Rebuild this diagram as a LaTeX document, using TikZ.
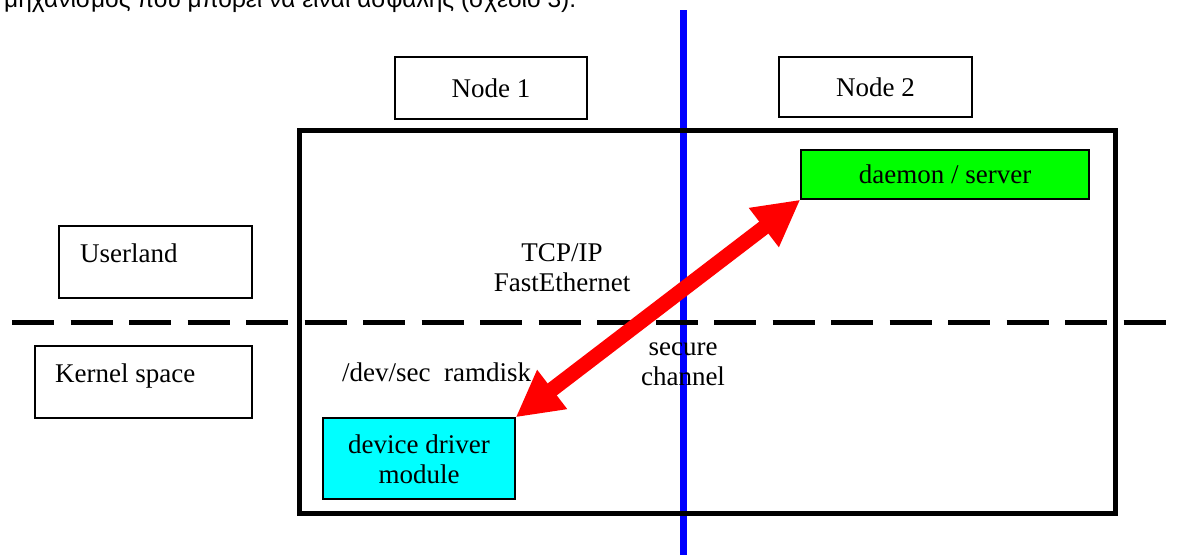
\documentclass[tikz,border=0pt]{standalone}
\usepackage{fontspec}
\setmainfont{Liberation Serif}
\newfontfamily\grsans{Liberation Sans}
\usetikzlibrary{arrows.meta}
\definecolor{linkred}{RGB}{255,0,0}
\definecolor{wireblue}{RGB}{0,0,255}
\definecolor{usergreen}{RGB}{0,255,0}
\definecolor{kernelcyan}{RGB}{0,255,255}
\begin{document}
\begin{tikzpicture}[x=1pt,y=-1pt,
  txt/.style={font=\fontsize{27}{30}\selectfont, inner sep=0pt},
  plainbox/.style={draw=black, line width=1.3pt, inner sep=0pt, txt},
  hostframe/.style={draw=black, line width=5pt},
  wire/.style={draw=wireblue, line width=7pt},
  layerline/.style={draw=black, line width=5pt, dash pattern=on 42pt off 16.5pt},
  link/.style={draw=linkred, line width=15pt,
    {Triangle[length=46pt,width=46pt]}-{Triangle[length=46pt,width=46pt]}}
]
\useasboundingbox (0,0) rectangle (1177,555);

% caption line running off the top edge
\begin{scope}
  \clip (0,0) rectangle (1177,555);
  \node[anchor=base west, inner sep=0pt] (cap) at (4,7)
    {\resizebox{572pt}{!}{\grsans\fontsize{24}{28}\selectfont μηχανισμός που μπορεί να είναι ασφαλής (σχέδιο 3).}};
\end{scope}

% network boundary between the two hosts
\coordinate (wtop) at (683,10);
\coordinate (wbot) at (683,555);
\draw[wire] (wtop) -- (wbot);

% the host frame
\draw[hostframe] (299,130) rectangle (1115,513);

% userland / kernel boundary
\coordinate (lleft) at (12,322);
\coordinate (lright) at (1177,322);
\draw[layerline] (lleft) -- (lright);

% host labels
\node[plainbox, minimum width=192pt, minimum height=62pt] (n1) at (491,88) {Node 1};
\node[plainbox, minimum width=193pt, minimum height=60pt] (n2) at (875.5,87) {Node 2};

% layer labels
\node[plainbox, minimum width=193pt, minimum height=72pt] (ulbox) at (155.5,262) {};
\node[txt, anchor=base west] (ul) at (80,262) {Userland};
\node[plainbox, minimum width=217pt, minimum height=72pt] (ksbox) at (143.5,382) {};
\node[txt, anchor=base west] (ks) at (55,382) {Kernel space};

% components
\node[plainbox, fill=usergreen, minimum width=288pt, minimum height=49pt] (dsv) at (945,174.5) {daemon / server};
\node[plainbox, fill=kernelcyan, minimum width=192pt, minimum height=81pt] (ddm) at (419,458.5) {};
\node[txt, align=center, anchor=base] (ddmtext) at (419,483) {device driver\\module};

% secure link
\draw[link] (ddm.north east) -- (dsv.south west);

% annotations
\node[txt, align=center, anchor=base] (tcp) at (562,291) {TCP/IP\\FastEthernet};
\node[txt, anchor=base west] (dev) at (342,381) {/dev/sec\ \ ramdisk};
\node[txt, align=center, anchor=base] (sec) at (683,385) {secure\\channel};
\end{tikzpicture}
\end{document}
